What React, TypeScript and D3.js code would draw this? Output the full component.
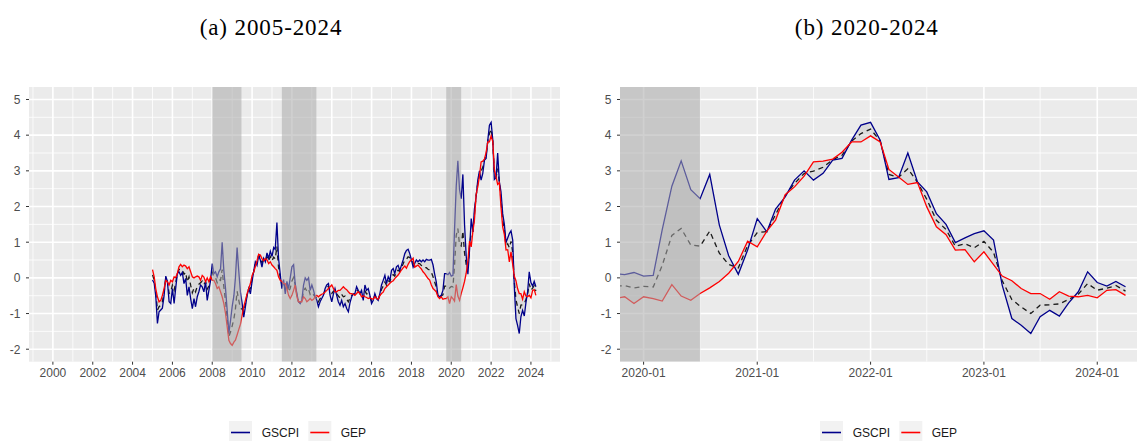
import React from "react";
import * as d3 from "d3";

// Monthly observations, first month = January 2005
const firstYear = 2005;
const gscpi: number[] = [
  // 2005
  -0.06, -0.15, -0.5, -1.28, -0.95, -0.9, -0.85, -0.5, 0.05, -0.1, -0.67, -0.72,
  // 2006
  -0.3, -0.72, -0.3, 0.12, 0.17, 0.07, 0.15, -0.16, -0.02, -0.49, -0.25, -0.58,
  // 2007
  -0.86, -0.58, -0.81, -0.53, -0.39, -0.2, -0.25, -0.39, -0.11, -0.63, -0.35, -0.07,
  // 2008
  0.4, 0.12, 0.17, 0.03, 0.17, 0.25, 1.0, 0.2, -0.3, -0.9, -1.55, -1.2,
  // 2009
  -0.8, -0.5, 0.0, 0.85, 0.2, -0.4, -0.7, -1.1, -0.8, -0.5, -0.3, -0.45,
  // 2010
  -0.1, 0.2, 0.45, 0.35, 0.62, 0.5, 0.3, 0.55, 0.45, 0.7, 0.55, 0.75,
  // 2011
  0.6, 0.85, 0.8, 1.55, 0.55, 0.1, -0.3, -0.05, -0.45, -0.1, -0.3, 0.0,
  // 2012
  0.31, 0.37, -0.16, -0.44, -0.67, -0.72, -0.63, -0.2, 0.0, -0.07, 0.0, -0.35,
  // 2013
  -0.2, -0.35, -0.53, -0.63, -0.81, -0.67, -0.58, -0.49, -0.3, -0.2, -0.16, -0.49,
  // 2014
  -0.67, -0.45, -0.3, -0.49, -0.67, -0.77, -0.63, -0.81, -0.72, -0.86, -0.95, -0.7,
  // 2015
  -0.53, -0.45, -0.44, -0.25, -0.35, -0.44, -0.35, -0.63, -0.2, -0.35, -0.3, -0.49,
  // 2016
  -0.72, -0.63, -0.44, -0.58, -0.63, -0.44, -0.2, -0.07, 0.07, -0.16, 0.03, -0.07,
  // 2017
  0.21, 0.26, 0.12, 0.31, 0.35, 0.21, 0.35, 0.5, 0.68, 0.77, 0.8, 0.68,
  // 2018
  0.5, 0.3, 0.4, 0.5, 0.45, 0.5, 0.45, 0.5, 0.45, 0.52, 0.5, 0.5,
  // 2019
  0.52, 0.36, 0.12, -0.11, -0.49, -0.53, -0.49, -0.35, 0.12, 0.12, 0.09, 0.15,
  // 2020
  0.05, 0.07, 1.35, 2.57, 3.28, 2.47, 2.22, 2.9, 1.48, 0.62, 0.1, 0.78,
  // 2021
  1.66, 1.29, 1.93, 2.27, 2.74, 3.0, 2.74, 2.93, 3.3, 3.35, 3.86, 4.28,
  // 2022
  4.36, 3.86, 2.76, 2.81, 3.5, 2.69, 2.41, 1.8, 1.5, 0.99, 1.12, 1.24,
  // 2023
  1.32, 1.06, -0.21, -1.14, -1.33, -1.56, -1.09, -0.91, -1.07, -0.7, -0.39, 0.17,
  // 2024
  -0.13, -0.23, -0.1, -0.25,
];

const gep: number[] = [
  // 2005
  0.23, 0.03, -0.3, -0.53, -0.67, -0.63, -0.49, -0.3, -0.07, -0.11, -0.2, -0.07,
  // 2006
  -0.11, 0.03, 0.01, 0.12, 0.31, 0.38, 0.31, 0.36, 0.33, 0.26, 0.31, 0.17,
  // 2007
  0.03, 0.0, 0.03, 0.05, 0.03, -0.07, 0.07, 0.02, -0.11, 0.0, -0.11, 0.03,
  // 2008
  -0.07, -0.07, -0.16, -0.3, -0.25, -0.39, -0.53, -0.72, -1.0, -1.37, -1.75, -1.84,
  // 2009
  -1.89, -1.8, -1.75, -1.6, -1.45, -1.3, -1.05, -0.81, -0.63, -0.44, -0.3, -0.16,
  // 2010
  0.07, 0.17, 0.31, 0.48, 0.66, 0.64, 0.54, 0.48, 0.54, 0.5, 0.4, 0.45,
  // 2011
  0.36, 0.31, 0.26, 0.21, 0.03, -0.07, -0.1, -0.16, -0.16, -0.3, -0.49, -0.58,
  // 2012
  -0.49, -0.35, -0.2, -0.53, -0.67, -0.67, -0.67, -0.53, -0.58, -0.67, -0.63, -0.58,
  // 2013
  -0.63, -0.6, -0.53, -0.49, -0.53, -0.49, -0.46, -0.44, -0.4, -0.35, -0.3, -0.25,
  // 2014
  -0.2, -0.3, -0.39, -0.39, -0.35, -0.35, -0.3, -0.25, -0.3, -0.33, -0.39, -0.44,
  // 2015
  -0.44, -0.46, -0.49, -0.44, -0.39, -0.44, -0.53, -0.5, -0.53, -0.55, -0.58, -0.56,
  // 2016
  -0.58, -0.6, -0.53, -0.58, -0.6, -0.5, -0.44, -0.4, -0.3, -0.25, -0.2, -0.15,
  // 2017
  -0.11, -0.08, -0.02, 0.03, 0.08, 0.15, 0.22, 0.28, 0.33, 0.27, 0.38, 0.46,
  // 2018
  0.5, 0.55, 0.3, 0.33, 0.36, 0.3, 0.25, 0.17, 0.12, 0.05, -0.02, -0.06,
  // 2019
  -0.2, -0.3, -0.34, -0.39, -0.53, -0.58, -0.53, -0.6, -0.58, -0.58, -0.53, -0.72,
  // 2020
  -0.53, -0.58, -0.65, -0.19, -0.51, -0.63, -0.44, -0.28, -0.1, 0.13, 0.46, 1.03,
  // 2021
  0.87, 1.31, 1.62, 2.33, 2.55, 2.85, 3.25, 3.27, 3.33, 3.52, 3.81, 3.81,
  // 2022
  3.98, 3.81, 3.04, 2.83, 2.62, 2.67, 1.99, 1.43, 1.21, 0.78, 0.79, 0.45,
  // 2023
  0.73, 0.37, 0.05, -0.08, -0.3, -0.44, -0.44, -0.6, -0.39, -0.51, -0.53, -0.49,
  // 2024
  -0.56, -0.35, -0.33, -0.49,
];

// Shaded (crisis) periods
const shadesA: [string, string][] = [
  ["2008-01-01", "2009-06-20"],
  ["2011-07-01", "2013-03-25"],
  ["2019-10-01", "2020-07-01"],
];
const shadesB: [string, string][] = [["2019-10-01", "2020-07-01"]];

const yTicks = [-2, -1, 0, 1, 2, 3, 4, 5];
const yMinor = [-1.5, -0.5, 0.5, 1.5, 2.5, 3.5, 4.5];
const xMajorA = [2000, 2002, 2004, 2006, 2008, 2010, 2012, 2014, 2016, 2018, 2020, 2022, 2024];
const xMinorA = [1999, 2001, 2003, 2005, 2007, 2009, 2011, 2013, 2015, 2017, 2019, 2021, 2023, 2025];
const xMajorB = ["2020-01", "2021-01", "2022-01", "2023-01", "2024-01"];
const xMinorB = ["2019-07", "2020-07", "2021-07", "2022-07", "2023-07"];

const seriesNames = ["GSCPI", "GEP"];
const seriesColors = ["#00008B", "#FF0000"];
const titles = ["(a) 2005-2024", "(b) 2020-2024"];

const parse = d3.timeParse("%Y-%m-%d");
const parseYM = d3.timeParse("%Y-%m");

type Row = { date: Date; g: number; e: number; m: number };
const rows: Row[] = gscpi.map((g, i) => ({
  date: new Date(firstYear, i, 1),
  g,
  e: gep[i],
  m: (g + gep[i]) / 2,
}));

const PANEL_TOP = 87;
const PANEL_BOTTOM = 361.7;
const AXIS_FONT = "'Liberation Sans', Arial, sans-serif";
const TITLE_FONT = "'Liberation Serif', 'Times New Roman', serif";

type PanelProps = {
  id: string;
  x0: number;
  x1: number;
  domain: [Date, Date];
  major: Date[];
  minor: Date[];
  fmt: (d: Date) => string;
  shades: [string, string][];
};

function Panel({ id, x0, x1, domain, major, minor, fmt, shades }: PanelProps) {
  const x = d3.scaleTime().domain(domain).range([x0, x1]);
  const y = d3.scaleLinear().domain([-2.35, 5.35]).range([PANEL_BOTTOM, PANEL_TOP]);

  const lineG = d3.line<Row>().x((d) => x(d.date)).y((d) => y(d.g));
  const lineE = d3.line<Row>().x((d) => x(d.date)).y((d) => y(d.e));
  const lineM = d3.line<Row>().x((d) => x(d.date)).y((d) => y(d.m));
  const area = d3
    .area<Row>()
    .x((d) => x(d.date))
    .y0((d) => y(d.g))
    .y1((d) => y(d.e));

  return (
    <g>
      <defs>
        <clipPath id={`clip-${id}`}>
          <rect x={x0} y={PANEL_TOP} width={x1 - x0} height={PANEL_BOTTOM - PANEL_TOP} />
        </clipPath>
      </defs>
      <rect x={x0} y={PANEL_TOP} width={x1 - x0} height={PANEL_BOTTOM - PANEL_TOP} fill="#EBEBEB" />
      <g clipPath={`url(#clip-${id})`}>
        {yMinor.map((v) => (
          <line key={`ym${v}`} x1={x0} x2={x1} y1={y(v)} y2={y(v)} stroke="#fff" strokeWidth={0.8} />
        ))}
        {minor.map((d, i) => (
          <line key={`xm${i}`} x1={x(d)} x2={x(d)} y1={PANEL_TOP} y2={PANEL_BOTTOM} stroke="#fff" strokeWidth={0.8} />
        ))}
        {yTicks.map((v) => (
          <line key={`yM${v}`} x1={x0} x2={x1} y1={y(v)} y2={y(v)} stroke="#fff" strokeWidth={1.6} />
        ))}
        {major.map((d, i) => (
          <line key={`xM${i}`} x1={x(d)} x2={x(d)} y1={PANEL_TOP} y2={PANEL_BOTTOM} stroke="#fff" strokeWidth={1.6} />
        ))}
        <path d={area(rows) || ""} fill="#BDBDBD" fillOpacity={0.35} />
        <path d={lineM(rows) || ""} fill="none" stroke="#1a1a1a" strokeWidth={1.3} strokeDasharray="5,4" />
        <path d={lineG(rows) || ""} fill="none" stroke={seriesColors[0]} strokeWidth={1.3} />
        <path d={lineE(rows) || ""} fill="none" stroke={seriesColors[1]} strokeWidth={1.3} />
        {shades.map(([a, b], i) => {
          const xa = x(parse(a) as Date);
          const xb = x(parse(b) as Date);
          return (
            <rect key={`s${i}`} x={xa} y={PANEL_TOP} width={xb - xa} height={PANEL_BOTTOM - PANEL_TOP} fill="#A9A9A9" fillOpacity={0.55} />
          );
        })}
      </g>
      {/* y axis */}
      {yTicks.map((v) => (
        <g key={`yt${v}`}>
          <line x1={x0 - 3} x2={x0} y1={y(v)} y2={y(v)} stroke="#333" strokeWidth={1} />
          <text x={x0 - 8.5} y={y(v)} dy="0.36em" textAnchor="end" fontSize={12} fill="#4D4D4D" fontFamily={AXIS_FONT}>
            {v}
          </text>
        </g>
      ))}
      {/* x axis */}
      {major.map((d, i) => (
        <g key={`xt${i}`}>
          <line x1={x(d)} x2={x(d)} y1={PANEL_BOTTOM} y2={PANEL_BOTTOM + 3} stroke="#333" strokeWidth={1} />
          <text x={x(d)} y={PANEL_BOTTOM + 15.5} textAnchor="middle" fontSize={12} fill="#4D4D4D" fontFamily={AXIS_FONT}>
            {fmt(d)}
          </text>
        </g>
      ))}
    </g>
  );
}

function Legend({ left }: { left: number }) {
  const offsets = [
    { key: 0, text: 32.7 },
    { key: 79.3, text: 111.7 },
  ];
  return (
    <g>
      {seriesNames.map((name, i) => (
        <g key={name}>
          <rect x={left + offsets[i].key} y={421} width={23} height={20} fill="#F2F2F2" />
          <line
            x1={left + offsets[i].key + 2}
            x2={left + offsets[i].key + 21}
            y1={432.5}
            y2={432.5}
            stroke={seriesColors[i]}
            strokeWidth={1.6}
          />
          <text x={left + offsets[i].text} y={432.5} dy="0.36em" fontSize={12} fill="#1a1a1a" fontFamily={AXIS_FONT}>
            {name}
          </text>
        </g>
      ))}
    </g>
  );
}

export default function App() {
  const fmtYear = d3.timeFormat("%Y");
  const fmtYM = d3.timeFormat("%Y-%m");
  return (
    <svg
      width={1137}
      height={441}
      style={{ position: "absolute", left: 0, top: 0, background: "#fff" }}
      xmlns="http://www.w3.org/2000/svg"
    >
      <rect x={0} y={0} width={1137} height={441} fill="#fff" />
      <text x={271} y={35} textAnchor="middle" fontSize={23} letterSpacing={0.9} fontFamily={TITLE_FONT} fill="#000">
        {titles[0]}
      </text>
      <text x={866.8} y={35} textAnchor="middle" fontSize={23} letterSpacing={0.9} fontFamily={TITLE_FONT} fill="#000">
        {titles[1]}
      </text>
      <Panel
        id="a"
        x0={29}
        x1={560}
        domain={[new Date(1998, 9, 20), new Date(2025, 5, 17)]}
        major={xMajorA.map((yr) => new Date(yr, 0, 1))}
        minor={xMinorA.map((yr) => new Date(yr, 0, 1))}
        fmt={fmtYear}
        shades={shadesA}
      />
      <Panel
        id="b"
        x0={620}
        x1={1137}
        domain={[new Date(2019, 9, 17), new Date(2024, 4, 8)]}
        major={xMajorB.map((s) => parseYM(s) as Date)}
        minor={xMinorB.map((s) => parseYM(s) as Date)}
        fmt={fmtYM}
        shades={shadesB}
      />
      <Legend left={229} />
      <Legend left={820} />
    </svg>
  );
}
